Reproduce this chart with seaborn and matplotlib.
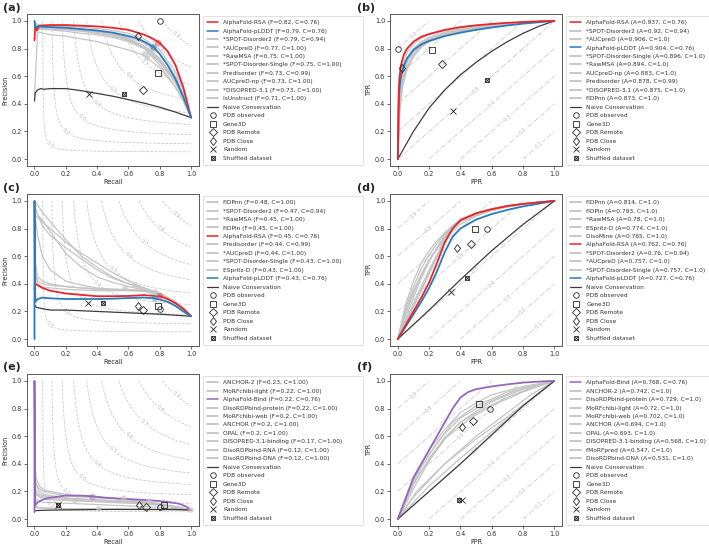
import numpy as np
import matplotlib
matplotlib.use('Agg')
import matplotlib.pyplot as plt
from matplotlib.lines import Line2D
import seaborn as sns

sns.set_style('ticks')
plt.rcParams['font.family'] = ['DejaVu Sans']

# ---------------- data ----------------
base_names = ['PDB observed', 'Gene3D', 'PDB Remote', 'PDB Close', 'Random', 'Shuffled dataset']

# (a) disorder, precision-recall
a_labels = ['AlphaFold-RSA (F=0.82, C=0.76)', 'AlphaFold-pLDDT (F=0.79, C=0.76)',
            '*SPOT-Disorder2 (F=0.79, C=0.94)', '*AUCpreD (F=0.77, C=1.00)',
            '*RawMSA (F=0.75, C=1.00)', '*SPOT-Disorder-Single (F=0.75, C=1.00)',
            'Predisorder (F=0.73, C=0.99)', 'AUCpreD-np (F=0.73, C=1.00)',
            '*DISOPRED-3.1 (F=0.73, C=1.00)', 'IsUnstruct (F=0.71, C=1.00)']
a_grid = [0, 0.02, 0.1, 0.2, 0.3, 0.4, 0.5, 0.6, 0.7, 0.8, 0.9, 0.95, 1.0]
a_gray = [
    [0.98, 0.97, 0.965, 0.96, 0.955, 0.945, 0.93, 0.91, 0.87, 0.79, 0.63, 0.5, 0.3],
    [0.97, 0.96, 0.955, 0.95, 0.94, 0.93, 0.91, 0.88, 0.84, 0.76, 0.6, 0.47, 0.3],
    [1.0, 0.95, 0.95, 0.94, 0.93, 0.92, 0.9, 0.87, 0.82, 0.73, 0.57, 0.45, 0.3],
    [0.96, 0.95, 0.94, 0.935, 0.925, 0.91, 0.89, 0.86, 0.81, 0.72, 0.56, 0.44, 0.3],
    [0.99, 0.96, 0.95, 0.94, 0.93, 0.92, 0.9, 0.86, 0.8, 0.7, 0.55, 0.44, 0.3],
    [0.95, 0.94, 0.935, 0.925, 0.91, 0.9, 0.88, 0.85, 0.8, 0.71, 0.56, 0.45, 0.3],
    [0.99, 0.97, 0.96, 0.95, 0.94, 0.93, 0.91, 0.87, 0.8, 0.68, 0.52, 0.42, 0.3],
    [0.45, 0.92, 0.9, 0.89, 0.87, 0.85, 0.82, 0.79, 0.75, 0.66, 0.52, 0.42, 0.3],
]
a_rsa_x = [0, 0.005, 0.015, 0.03, 0.1, 0.2, 0.3, 0.4, 0.5, 0.6, 0.7, 0.75, 0.8, 0.85, 0.9, 0.95, 1.0]
a_rsa_y = [0.86, 0.96, 0.93, 0.965, 0.97, 0.97, 0.965, 0.96, 0.95, 0.935, 0.9, 0.875, 0.84, 0.78, 0.68, 0.52, 0.3]
a_pl_x = [0, 0.005, 0.02, 0.1, 0.2, 0.3, 0.4, 0.5, 0.6, 0.65, 0.7, 0.76, 0.8, 0.85, 0.9, 0.95, 1.0]
a_pl_y = [1.0, 0.95, 0.96, 0.955, 0.95, 0.94, 0.93, 0.915, 0.89, 0.875, 0.85, 0.81, 0.76, 0.68, 0.58, 0.45, 0.3]
a_naive_x = [0, 0.005, 0.02, 0.04, 0.06, 0.1, 0.2, 0.3, 0.4, 0.5, 0.6, 0.7, 0.8, 0.9, 1.0]
a_naive_y = [0.42, 0.48, 0.5, 0.51, 0.505, 0.51, 0.51, 0.495, 0.475, 0.455, 0.43, 0.405, 0.375, 0.34, 0.3]
a_base_x = [0.8, 0.79, 0.69, 0.66, 0.35, 0.57]
a_base_y = [1.0, 0.62, 0.5, 0.89, 0.47, 0.47]
a_dot_x = [0.74, 0.73, 0.72, 0.75, 0.70]
a_dot_y = [0.79, 0.76, 0.73, 0.78, 0.76]
a_best_x = [0.79, 0.76]
a_best_y = [0.84, 0.81]

# (b) disorder, ROC
b_labels = ['AlphaFold-RSA (A=0.937, C=0.76)', '*SPOT-Disorder2 (A=0.92, C=0.94)',
            '*AUCpreD (A=0.906, C=1.0)', 'AlphaFold-pLDDT (A=0.904, C=0.76)',
            '*SPOT-Disorder-Single (A=0.896, C=1.0)', '*RawMSA (A=0.894, C=1.0)',
            'AUCpreD-np (A=0.883, C=1.0)', 'Predisorder (A=0.878, C=0.99)',
            '*DISOPRED-3.1 (A=0.875, C=1.0)', 'fIDPnn (A=0.873, C=1.0)']
b_grid = [0, 0.01, 0.03, 0.06, 0.1, 0.15, 0.2, 0.3, 0.4, 0.5, 0.6, 0.7, 0.8, 0.9, 1.0]
b_gray = [
    [0, 0.5, 0.68, 0.77, 0.83, 0.875, 0.9, 0.93, 0.95, 0.965, 0.975, 0.985, 0.99, 0.995, 1],
    [0, 0.45, 0.63, 0.73, 0.8, 0.85, 0.88, 0.92, 0.94, 0.955, 0.97, 0.98, 0.99, 0.995, 1],
    [0, 0.42, 0.6, 0.71, 0.78, 0.84, 0.87, 0.91, 0.935, 0.955, 0.97, 0.98, 0.99, 0.995, 1],
    [0, 0.4, 0.6, 0.7, 0.78, 0.83, 0.87, 0.91, 0.935, 0.95, 0.965, 0.98, 0.99, 0.995, 1],
    [0, 0.35, 0.55, 0.67, 0.76, 0.82, 0.86, 0.9, 0.93, 0.95, 0.965, 0.975, 0.985, 0.995, 1],
    [0, 0.45, 0.58, 0.67, 0.75, 0.81, 0.85, 0.9, 0.925, 0.945, 0.96, 0.975, 0.985, 0.995, 1],
    [0, 0.55, 0.65, 0.72, 0.78, 0.82, 0.85, 0.89, 0.92, 0.94, 0.955, 0.97, 0.985, 0.995, 1],
    [0, 0.3, 0.52, 0.65, 0.74, 0.81, 0.85, 0.9, 0.925, 0.945, 0.96, 0.975, 0.985, 0.995, 1],
]
b_rsa_x = [0, 0.005, 0.01, 0.02, 0.04, 0.06, 0.1, 0.15, 0.2, 0.3, 0.4, 0.5, 0.6, 0.7, 0.8, 0.9, 1]
b_rsa_y = [0, 0.45, 0.58, 0.68, 0.76, 0.8, 0.85, 0.885, 0.905, 0.935, 0.955, 0.968, 0.978, 0.986, 0.992, 0.997, 1]
b_pl_x = [0, 0.005, 0.01, 0.02, 0.04, 0.06, 0.1, 0.15, 0.2, 0.3, 0.4, 0.5, 0.6, 0.7, 0.8, 0.9, 1]
b_pl_y = [0, 0.35, 0.5, 0.6, 0.68, 0.73, 0.79, 0.83, 0.855, 0.89, 0.915, 0.935, 0.952, 0.967, 0.98, 0.99, 1]
b_naive_x = [0, 0.1, 0.2, 0.3, 0.4, 0.5, 0.6, 0.7, 0.8, 0.9, 1]
b_naive_y = [0, 0.2, 0.37, 0.5, 0.61, 0.7, 0.78, 0.85, 0.91, 0.96, 1]
b_base_x = [0.0, 0.22, 0.28, 0.03, 0.35, 0.57]
b_base_y = [0.8, 0.79, 0.69, 0.66, 0.35, 0.57]

# (c) disorder (second set), precision-recall
c_labels = ['fIDPnn (F=0.48, C=1.00)', '*SPOT-Disorder2 (F=0.47, C=0.94)',
            '*RawMSA (F=0.45, C=1.00)', 'fIDPln (F=0.45, C=1.00)',
            'AlphaFold-RSA (F=0.45, C=0.76)', 'Predisorder (F=0.44, C=0.99)',
            '*AUCpreD (F=0.44, C=1.00)', '*SPOT-Disorder-Single (F=0.43, C=1.00)',
            'ESpritz-D (F=0.43, C=1.00)', 'AlphaFold-pLDDT (F=0.43, C=0.76)']
c_grid = [0, 0.02, 0.05, 0.1, 0.2, 0.3, 0.4, 0.5, 0.6, 0.7, 0.8, 0.9, 0.95, 1.0]
c_gray = [
    [1.0, 0.97, 0.92, 0.85, 0.72, 0.6, 0.52, 0.45, 0.4, 0.37, 0.33, 0.26, 0.22, 0.165],
    [0.9, 0.88, 0.85, 0.8, 0.7, 0.62, 0.55, 0.48, 0.42, 0.37, 0.33, 0.27, 0.22, 0.165],
    [0.95, 0.9, 0.82, 0.75, 0.66, 0.58, 0.5, 0.44, 0.4, 0.36, 0.33, 0.27, 0.22, 0.165],
    [0.97, 0.9, 0.86, 0.78, 0.62, 0.52, 0.45, 0.41, 0.38, 0.355, 0.33, 0.27, 0.22, 0.165],
    [0.6, 0.45, 0.42, 0.4, 0.38, 0.37, 0.36, 0.36, 0.36, 0.35, 0.32, 0.27, 0.22, 0.165],
    [0.55, 0.42, 0.4, 0.39, 0.38, 0.37, 0.365, 0.36, 0.355, 0.35, 0.33, 0.27, 0.22, 0.165],
    [0.5, 0.4, 0.38, 0.37, 0.36, 0.355, 0.35, 0.35, 0.35, 0.345, 0.32, 0.26, 0.22, 0.165],
    [0.92, 0.75, 0.6, 0.5, 0.42, 0.39, 0.37, 0.36, 0.355, 0.35, 0.32, 0.26, 0.21, 0.165],
]
c_rsa_x = [0, 0.005, 0.02, 0.05, 0.1, 0.2, 0.3, 0.4, 0.5, 0.6, 0.7, 0.8, 0.85, 0.9, 0.95, 1.0]
c_rsa_y = [0.36, 0.4, 0.39, 0.37, 0.35, 0.33, 0.32, 0.31, 0.31, 0.312, 0.318, 0.31, 0.29, 0.26, 0.22, 0.165]
c_pl_x = [0, 0, 0.005, 0.02, 0.05, 0.1, 0.2, 0.3, 0.4, 0.5, 0.6, 0.7, 0.77, 0.85, 0.9, 0.95, 1.0]
c_pl_y = [0.0, 1.0, 0.27, 0.29, 0.3, 0.295, 0.29, 0.29, 0.29, 0.292, 0.297, 0.3, 0.295, 0.27, 0.24, 0.2, 0.165]
c_naive_x = [0, 0.01, 0.05, 0.1, 0.2, 0.4, 0.6, 0.8, 1.0]
c_naive_y = [0.25, 0.23, 0.22, 0.21, 0.21, 0.2, 0.19, 0.18, 0.165]
c_base_x = [0.8, 0.79, 0.69, 0.66, 0.34, 0.44]
c_base_y = [0.22, 0.24, 0.21, 0.24, 0.26, 0.26]
c_dot_x = [0.58, 0.64, 0.78, 0.77]
c_dot_y = [0.37, 0.39, 0.33, 0.34]
c_best_x = [0.8, 0.77]
c_best_y = [0.31, 0.295]

# (d) disorder (second set), ROC
d_labels = ['fIDPnn (A=0.814, C=1.0)', 'fIDPln (A=0.793, C=1.0)', '*RawMSA (A=0.78, C=1.0)',
            'ESpritz-D (A=0.774, C=1.0)', 'DisoMine (A=0.765, C=1.0)',
            'AlphaFold-RSA (A=0.762, C=0.76)', '*SPOT-Disorder2 (A=0.76, C=0.94)',
            '*AUCpreD (A=0.757, C=1.0)', '*SPOT-Disorder-Single (A=0.757, C=1.0)',
            'AlphaFold-pLDDT (A=0.727, C=0.76)']
d_grid = [0, 0.05, 0.1, 0.15, 0.2, 0.25, 0.3, 0.35, 0.4, 0.5, 0.6, 0.7, 0.8, 0.9, 1.0]
d_gray = [
    [0, 0.25, 0.42, 0.55, 0.64, 0.71, 0.77, 0.82, 0.86, 0.91, 0.94, 0.965, 0.98, 0.99, 1],
    [0, 0.22, 0.38, 0.51, 0.61, 0.69, 0.76, 0.81, 0.85, 0.9, 0.935, 0.96, 0.978, 0.99, 1],
    [0, 0.15, 0.3, 0.44, 0.56, 0.66, 0.75, 0.82, 0.86, 0.91, 0.94, 0.965, 0.98, 0.99, 1],
    [0, 0.18, 0.33, 0.46, 0.57, 0.66, 0.74, 0.8, 0.85, 0.9, 0.935, 0.96, 0.978, 0.99, 1],
    [0, 0.2, 0.35, 0.47, 0.57, 0.65, 0.72, 0.78, 0.83, 0.89, 0.93, 0.958, 0.977, 0.99, 1],
    [0, 0.12, 0.24, 0.36, 0.48, 0.6, 0.72, 0.82, 0.87, 0.915, 0.945, 0.965, 0.98, 0.99, 1],
    [0, 0.13, 0.26, 0.38, 0.5, 0.61, 0.72, 0.8, 0.85, 0.9, 0.935, 0.96, 0.978, 0.99, 1],
    [0, 0.11, 0.23, 0.35, 0.47, 0.59, 0.71, 0.8, 0.85, 0.9, 0.93, 0.955, 0.975, 0.99, 1],
]
d_rsa_x = [0, 0.05, 0.1, 0.15, 0.2, 0.25, 0.3, 0.35, 0.4, 0.5, 0.6, 0.7, 0.8, 0.9, 1]
d_rsa_y = [0, 0.1, 0.2, 0.3, 0.41, 0.55, 0.7, 0.8, 0.86, 0.91, 0.94, 0.963, 0.978, 0.99, 1]
d_pl_x = [0, 0.05, 0.1, 0.15, 0.2, 0.25, 0.3, 0.35, 0.4, 0.5, 0.6, 0.7, 0.8, 0.9, 1]
d_pl_y = [0, 0.09, 0.18, 0.27, 0.37, 0.49, 0.63, 0.74, 0.8, 0.865, 0.905, 0.935, 0.96, 0.98, 1]
d_naive_x = [0, 0.2, 0.4, 0.6, 0.8, 1]
d_naive_y = [0, 0.21, 0.43, 0.64, 0.83, 1]
d_base_x = [0.57, 0.49, 0.47, 0.38, 0.34, 0.44]
d_base_y = [0.8, 0.8, 0.69, 0.66, 0.34, 0.44]

# (e) binding, precision-recall
e_labels = ['ANCHOR-2 (F=0.23, C=1.00)', 'MoRFchibi-light (F=0.22, C=1.00)',
            'AlphaFold-Bind (F=0.22, C=0.76)', 'DisoRDPbind-protein (F=0.22, C=1.00)',
            'MoRFchibi-web (F=0.2, C=1.00)', 'ANCHOR (F=0.2, C=1.00)', 'OPAL (F=0.2, C=1.00)',
            'DISOPRED-3.1-binding (F=0.17, C=1.00)', 'DisoRDPbind-RNA (F=0.12, C=1.00)',
            'DisoRDPbind-DNA (F=0.12, C=1.00)']
e_grid = [0, 0.01, 0.03, 0.06, 0.1, 0.2, 0.3, 0.4, 0.5, 0.6, 0.7, 0.8, 0.9, 1.0]
e_gray = [
    [0.3, 0.25, 0.22, 0.2, 0.19, 0.17, 0.16, 0.155, 0.15, 0.14, 0.13, 0.11, 0.09, 0.065],
    [0.45, 0.3, 0.24, 0.21, 0.2, 0.18, 0.165, 0.155, 0.15, 0.14, 0.125, 0.11, 0.09, 0.065],
    [0.2, 0.18, 0.17, 0.16, 0.15, 0.14, 0.135, 0.13, 0.125, 0.12, 0.115, 0.105, 0.09, 0.065],
    [0.35, 0.25, 0.2, 0.18, 0.17, 0.155, 0.145, 0.14, 0.135, 0.13, 0.12, 0.105, 0.09, 0.065],
    [0.22, 0.18, 0.16, 0.15, 0.14, 0.135, 0.13, 0.125, 0.12, 0.115, 0.11, 0.1, 0.085, 0.065],
    [0.25, 0.2, 0.18, 0.17, 0.16, 0.15, 0.14, 0.135, 0.13, 0.125, 0.115, 0.105, 0.09, 0.065],
    [0.15, 0.14, 0.13, 0.12, 0.12, 0.115, 0.11, 0.105, 0.1, 0.095, 0.09, 0.085, 0.075, 0.065],
    [0.1, 0.09, 0.085, 0.08, 0.08, 0.075, 0.075, 0.075, 0.072, 0.07, 0.07, 0.068, 0.066, 0.065],
    [0.09, 0.085, 0.08, 0.078, 0.076, 0.074, 0.073, 0.072, 0.071, 0.07, 0.069, 0.067, 0.066, 0.065],
]
e_bind_x = [0, 0, 0.005, 0.02, 0.05, 0.1, 0.2, 0.3, 0.37, 0.45, 0.55, 0.65, 0.75, 0.85, 0.92, 0.97, 1.0]
e_bind_y = [0.05, 1.0, 0.1, 0.12, 0.14, 0.155, 0.17, 0.17, 0.165, 0.155, 0.148, 0.142, 0.135, 0.125, 0.112, 0.09, 0.065]
e_naive_x = [0, 0.02, 0.1, 0.3, 0.5, 0.7, 0.9, 1.0]
e_naive_y = [0.06, 0.062, 0.065, 0.068, 0.07, 0.07, 0.07, 0.065]
e_base_x = [0.8, 0.83, 0.71, 0.67, 0.15, 0.15]
e_base_y = [0.085, 0.1, 0.085, 0.1, 0.1, 0.1]
e_dot_x = [0.57, 0.73, 0.41, 0.26, 1.0]
e_dot_y = [0.15, 0.13, 0.075, 0.13, 0.065]
e_best_x = [0.37]
e_best_y = [0.16]

# (f) binding, ROC
f_labels = ['AlphaFold-Bind (A=0.768, C=0.76)', 'ANCHOR-2 (A=0.742, C=1.0)',
            'DisoRDPbind-protein (A=0.729, C=1.0)', 'MoRFchibi-light (A=0.72, C=1.0)',
            'MoRFchibi-web (A=0.702, C=1.0)', 'ANCHOR (A=0.694, C=1.0)', 'OPAL (A=0.693, C=1.0)',
            'DISOPRED-3.1-binding (A=0.568, C=1.0)', 'fMoRFpred (A=0.547, C=1.0)',
            'DisoRDPbind-DNA (A=0.531, C=1.0)']
f_gray_x = [
    [0, 0.1, 0.2, 0.3, 0.4, 0.5, 0.6, 0.8, 1],
    [0, 0.12, 0.25, 0.35, 0.5, 0.7, 1],
    [0, 0.1, 0.2, 0.3, 0.4, 0.5, 0.6, 0.8, 1],
    [0, 0.1, 0.2, 0.3, 0.4, 0.5, 0.6, 0.8, 1],
    [0, 0.12, 0.3, 0.45, 0.6, 0.8, 1],
    [0, 0.1, 0.2, 0.3, 0.4, 0.55, 0.7, 0.85, 1],
    [0, 0.1, 0.3, 0.5, 0.7, 0.85, 1],
    [0, 0.12, 0.3, 0.5, 0.7, 0.85, 1],
    [0, 0.2, 0.4, 0.6, 0.8, 1],
]
f_gray_y = [
    [0, 0.3, 0.5, 0.65, 0.77, 0.84, 0.9, 0.96, 1],
    [0, 0.33, 0.55, 0.7, 0.82, 0.92, 1],
    [0, 0.28, 0.47, 0.62, 0.73, 0.8, 0.86, 0.95, 1],
    [0, 0.25, 0.44, 0.59, 0.7, 0.78, 0.85, 0.94, 1],
    [0, 0.3, 0.58, 0.72, 0.82, 0.92, 1],
    [0, 0.22, 0.42, 0.58, 0.7, 0.8, 0.88, 0.95, 1],
    [0, 0.16, 0.4, 0.6, 0.77, 0.9, 1],
    [0, 0.2, 0.4, 0.58, 0.74, 0.87, 1],
    [0, 0.24, 0.44, 0.63, 0.82, 1],
]
f_bind_x = [0, 0.05, 0.1, 0.15, 0.2, 0.25, 0.3, 0.35, 0.4, 0.45, 0.5, 0.6, 0.7, 0.8, 0.9, 1]
f_bind_y = [0, 0.15, 0.3, 0.4, 0.5, 0.6, 0.7, 0.8, 0.88, 0.92, 0.94, 0.96, 0.975, 0.988, 0.995, 1]
f_naive_x = [0, 0.2, 0.4, 0.6, 0.8, 1]
f_naive_y = [0, 0.2, 0.4, 0.61, 0.82, 1]
f_base_x = [0.59, 0.52, 0.48, 0.41, 0.41, 0.39]
f_base_y = [0.8, 0.83, 0.71, 0.67, 0.14, 0.14]

iso_levels = [0.1, 0.2, 0.3, 0.4, 0.5, 0.6, 0.7, 0.8, 0.9]

# ---------------- styling ----------------
RED, BLUE, PURPLE = '#e5262b', '#2b7bba', '#9467bd'
GRAY, NAIVE = '#c4c4c4', '#3c3c3c'
FS = 4.7


def line_color(label):
    if label.startswith('AlphaFold-RSA'):
        return RED
    if label.startswith('AlphaFold-pLDDT'):
        return BLUE
    if label.startswith('AlphaFold-Bind'):
        return PURPLE
    return GRAY


def draw_iso(ax, kind):
    # iso-F1 curves for PR panels, iso balanced-accuracy lines for ROC panels
    g = np.linspace(0.001, 1, 300)
    X, Y = np.meshgrid(g, g)
    if kind == 'pr':
        Z = 2 * X * Y / (X + Y)
        pos = [(v, v) for v in iso_levels]
        ls, rot = '--', -45
    else:
        Z = (Y + 1 - X) / 2
        pos = [(1 - v, v) for v in iso_levels]
        ls, rot = '-.', 45
    ax.contour(X, Y, Z, levels=iso_levels, colors='0.78', linestyles=ls,
               linewidths=0.55, zorder=0)
    for v, (px, py) in zip(iso_levels, pos):
        ax.text(px, py, f'{v:.1f}', fontsize=4, color='0.72', rotation=rot,
                transform_rotates_text=True, rotation_mode='anchor',
                ha='center', va='center', zorder=1,
                bbox=dict(fc='white', ec='none', pad=0.4))


def draw_markers(ax, bx, by):
    kw = dict(ls='none', mfc='none', mec='0.15', mew=0.6, zorder=6)
    ax.plot(bx[0], by[0], marker='o', ms=4, **kw)
    ax.plot(bx[1], by[1], marker='s', ms=4, **kw)
    ax.plot(bx[2], by[2], marker='D', ms=4, **kw)
    ax.plot(bx[3], by[3], marker='d', ms=4.5, **kw)
    ax.plot(bx[4], by[4], marker='x', ms=4, **kw)
    ax.plot(bx[5], by[5], marker='s', ms=3.5, **kw)
    ax.plot(bx[5], by[5], marker='x', ms=3.5, **kw)


def legend_handles(labels):
    hs = []
    for lab in labels:
        c = line_color(lab)
        hs.append(Line2D([], [], color=c, lw=1.3 if c == GRAY else 1.1))
    hs.append(Line2D([], [], color=NAIVE, lw=0.9))
    kw = dict(ls='none', mfc='none', mec='0.15', mew=0.6)
    hs.append(Line2D([], [], marker='o', ms=4, **kw))
    hs.append(Line2D([], [], marker='s', ms=4, **kw))
    hs.append(Line2D([], [], marker='D', ms=4, **kw))
    hs.append(Line2D([], [], marker='d', ms=4.5, **kw))
    hs.append(Line2D([], [], marker='x', ms=4, **kw))
    hs.append((Line2D([], [], marker='s', ms=3.5, **kw), Line2D([], [], marker='x', ms=3.5, **kw)))
    return hs, list(labels) + ['Naive Conservation'] + base_names


def draw_panel(ax, kind, labels, gray_x, gray_y, hi, naive_x, naive_y, bx, by,
               dots=None, best=None):
    draw_iso(ax, kind)
    for gx, gy in zip(gray_x, gray_y):
        sns.lineplot(x=gx, y=gy, sort=False, estimator=None, color=GRAY, lw=0.9,
                     ax=ax, zorder=2)
    sns.lineplot(x=naive_x, y=naive_y, sort=False, estimator=None, color=NAIVE,
                 lw=0.9, ax=ax, zorder=3)
    for (hx, hy, c) in hi:
        sns.lineplot(x=hx, y=hy, sort=False, estimator=None, color=c, lw=1.3,
                     ax=ax, zorder=4)
    if dots is not None:
        sns.scatterplot(x=dots[0], y=dots[1], color='0.78', s=16, alpha=0.7,
                        edgecolor='none', ax=ax, zorder=5)
    if best is not None:
        sns.scatterplot(x=best[0], y=best[1], hue=list(range(len(best[0]))),
                        palette=[c for (_, _, c) in hi][:len(best[0])], s=22, alpha=0.45,
                        edgecolor='none', legend=False, ax=ax, zorder=5)
    draw_markers(ax, bx, by)

    ax.set_xlim(-0.05, 1.05)
    ax.set_ylim(-0.05, 1.05)
    ticks = [0, 0.2, 0.4, 0.6, 0.8, 1.0]
    ax.set_xticks(ticks)
    ax.set_yticks(ticks)
    ax.tick_params(labelsize=FS, length=2, width=0.5, pad=1.5, colors='0.2')
    for s in ax.spines.values():
        s.set_visible(True)
        s.set_color('0.35')
        s.set_linewidth(0.7)
    if kind == 'pr':
        ax.set_xlabel('Recall', fontsize=FS, labelpad=1.5)
        ax.set_ylabel('Precision', fontsize=FS, labelpad=2)
    else:
        ax.set_xlabel('FPR', fontsize=FS, labelpad=1.5)
        ax.set_ylabel('TPR', fontsize=FS, labelpad=2)
    hs, ls = legend_handles(labels)
    leg = ax.legend(hs, ls, loc='upper left', bbox_to_anchor=(1.023, 0.0, 0.93, 0.987),
                    mode='expand', borderaxespad=0, fontsize=4.2, handlelength=1.9,
                    handletextpad=0.85, labelspacing=0.58, borderpad=0.7,
                    frameon=True, fancybox=True)
    leg.get_frame().set_edgecolor('0.82')
    leg.get_frame().set_linewidth(0.6)
    for t in leg.get_texts():
        t.set_color('0.2')


fig = plt.figure(figsize=(7.09, 5.44), dpi=100)
w, h = 0.243, 0.2794
lefts = [0.0376, 0.550]
bottoms = [0.6949, 0.3640, 0.0331]
axs = [[fig.add_axes([l, b, w, h]) for l in lefts] for b in bottoms]

draw_panel(axs[0][0], 'pr', a_labels, [a_grid] * len(a_gray), a_gray,
           [(a_rsa_x, a_rsa_y, RED), (a_pl_x, a_pl_y, BLUE)],
           a_naive_x, a_naive_y, a_base_x, a_base_y,
           dots=(a_dot_x, a_dot_y), best=(a_best_x, a_best_y))
draw_panel(axs[0][1], 'roc', b_labels, [b_grid] * len(b_gray), b_gray,
           [(b_pl_x, b_pl_y, BLUE), (b_rsa_x, b_rsa_y, RED)],
           b_naive_x, b_naive_y, b_base_x, b_base_y)
draw_panel(axs[1][0], 'pr', c_labels, [c_grid] * len(c_gray), c_gray,
           [(c_rsa_x, c_rsa_y, RED), (c_pl_x, c_pl_y, BLUE)],
           c_naive_x, c_naive_y, c_base_x, c_base_y,
           dots=(c_dot_x, c_dot_y), best=(c_best_x, c_best_y))
draw_panel(axs[1][1], 'roc', d_labels, [d_grid] * len(d_gray), d_gray,
           [(d_pl_x, d_pl_y, BLUE), (d_rsa_x, d_rsa_y, RED)],
           d_naive_x, d_naive_y, d_base_x, d_base_y)
draw_panel(axs[2][0], 'pr', e_labels, [e_grid] * len(e_gray), e_gray,
           [(e_bind_x, e_bind_y, PURPLE)],
           e_naive_x, e_naive_y, e_base_x, e_base_y,
           dots=(e_dot_x, e_dot_y), best=(e_best_x, e_best_y))
draw_panel(axs[2][1], 'roc', f_labels, f_gray_x, f_gray_y,
           [(f_bind_x, f_bind_y, PURPLE)],
           f_naive_x, f_naive_y, f_base_x, f_base_y)

panel_pos = [(0.004, 0.986), (0.503, 0.986), (0.004, 0.654), (0.503, 0.654),
             (0.004, 0.325), (0.503, 0.325)]
for lab, (px, py) in zip(['(a)', '(b)', '(c)', '(d)', '(e)', '(f)'], panel_pos):
    fig.text(px, py, lab, fontsize=8, fontweight='bold', va='center', ha='left')

fig.savefig('out.png', dpi=100)
